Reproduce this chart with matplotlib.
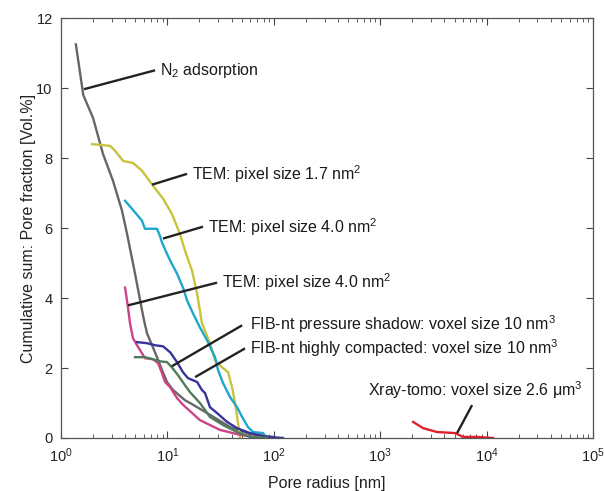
import matplotlib
matplotlib.use("Agg")
import matplotlib.pyplot as plt
from matplotlib.ticker import LogLocator, NullFormatter

plt.rcParams['font.family'] = ['Liberation Sans', 'DejaVu Sans']
plt.rcParams['mathtext.fontset'] = 'custom'
plt.rcParams['mathtext.rm'] = 'Liberation Sans'
plt.rcParams['mathtext.it'] = 'Liberation Sans:italic'
plt.rcParams['mathtext.default'] = 'regular'

# Pore radius [nm] and cumulative pore fraction [Vol.%] for each method
n2_r = [1.38, 1.62, 2.0, 2.48, 3.08, 3.74, 4.17, 4.96, 5.77, 6.03, 6.43,
        7.17, 7.98, 8.9, 9.91, 11.3, 14.6, 16.3, 25.2, 38.8, 59.7, 98.0]
n2_v = [11.25, 9.8, 9.15, 8.12, 7.35, 6.50, 5.84, 4.70, 3.65, 3.36, 2.99,
        2.65, 2.31, 1.94, 1.60, 1.37, 1.08, 1.0, 0.66, 0.31, 0.11, 0.03]

tem17_r = [1.96, 2.89, 3.22, 3.83, 4.75, 5.77, 7.32, 9.1, 11.0, 13.1, 14.6, 17.0,
           19.0, 21.1, 25.1, 28.0, 32.6, 37.1, 40.5, 43.2, 46.1, 48.1]
tem17_v = [8.40, 8.35, 8.21, 7.92, 7.86, 7.64, 7.21, 6.84, 6.41, 5.84, 5.36, 4.79,
           4.13, 3.28, 2.71, 2.22, 2.02, 1.88, 1.45, 1.00, 0.43, 0.0]

tem40a_r = [4.0, 4.65, 5.77, 6.15, 7.98, 8.5, 8.9, 9.9, 10.6, 12.3, 14.0, 15.3,
            17.4, 20.2, 23.6, 28.0, 29.9, 33.3, 38.7, 45.1, 50.3, 57.2, 63.8,
            79.1, 82.8]
tem40a_v = [6.78, 6.55, 6.21, 5.98, 5.98, 5.78, 5.58, 5.27, 5.07, 4.70, 4.30, 3.93,
            3.56, 3.16, 2.79, 2.31, 1.94, 1.57, 1.17, 0.88, 0.60, 0.31, 0.17,
            0.14, 0.06]

tem40b_r = [4.0, 4.26, 4.45, 4.75, 5.18, 5.77, 6.15, 7.32, 8.16, 8.9, 9.5, 10.6,
            12.3, 14.0, 20.2, 31.2, 48.1, 63.8]
tem40b_v = [4.30, 3.73, 3.28, 2.85, 2.65, 2.42, 2.28, 2.25, 2.14, 1.85, 1.60, 1.45,
            1.14, 0.95, 0.51, 0.23, 0.09, 0.03]

fib_hc_r = [5.18, 6.43, 7.65, 9.1, 10.6, 12.3, 14.0, 15.6, 19.0, 21.1, 22.6, 25.1,
            29.3, 36.3, 45.1, 59.7, 86.3, 122.0]
fib_hc_v = [2.74, 2.71, 2.65, 2.62, 2.45, 2.17, 1.88, 1.71, 1.60, 1.37, 1.28, 0.88,
            0.71, 0.46, 0.28, 0.14, 0.03, 0.0]

fib_ps_r = [4.96, 6.15, 7.32, 8.5, 9.9, 11.0, 12.6, 14.6, 16.3, 20.2, 25.1, 33.3,
            45.1, 59.7, 86.3]
fib_ps_v = [2.31, 2.31, 2.25, 2.19, 2.17, 2.02, 1.79, 1.51, 1.31, 1.00, 0.60, 0.37,
            0.17, 0.03, 0.0]

xray_r = [2033, 2525, 3420, 5050, 6000, 8130, 11480]
xray_v = [0.46, 0.28, 0.17, 0.14, 0.03, 0.03, 0.0]

# Label text, point on the curve, end of leader line, text anchor
label_text = [
    'N$_2$ adsorption',
    'TEM: pixel size 1.7 nm$^2$',
    'TEM: pixel size 4.0 nm$^2$',
    'TEM: pixel size 4.0 nm$^2$',
    'FIB-nt pressure shadow: voxel size 10 nm$^3$',
    'FIB-nt highly compacted: voxel size 10 nm$^3$',
    'Xray-tomo: voxel size 2.6 μm$^3$',
]
leader_tip = [(1.645, 9.97), (7.17, 7.24), (9.09, 5.70), (4.26, 3.79),
              (11.0, 2.05), (18.2, 1.74), (5270, 0.14)]
leader_end = [(7.65, 10.51), (15.3, 7.55), (21.6, 6.04), (29.3, 4.44),
              (50.3, 3.22), (53.6, 2.56), (7290, 0.94)]
text_anchor = [(8.52, 10.51), (17.0, 7.55), (24.1, 6.04), (32.6, 4.44),
               (59.7, 3.25), (59.7, 2.58), (768, 1.37)]

fig = plt.figure(figsize=(6.04, 4.91), dpi=100)
ax = fig.add_axes([0.101, 0.108, 0.881, 0.855])

lw = 1.7
ax.plot(n2_r, n2_v, color='#666666', lw=lw)
ax.plot(tem17_r, tem17_v, color='#c8c23c', lw=lw)
ax.plot(tem40a_r, tem40a_v, color='#1ea6cc', lw=lw)
ax.plot(tem40b_r, tem40b_v, color='#cc4488', lw=lw)
ax.plot(fib_hc_r, fib_hc_v, color='#36349a', lw=lw)
ax.plot(fib_ps_r, fib_ps_v, color='#4f7d5c', lw=lw)
ax.plot(xray_r, xray_v, color='#e0202a', lw=lw)

for text, tip, end, anchor in zip(label_text, leader_tip, leader_end, text_anchor):
    ax.plot([tip[0], end[0]], [tip[1], end[1]], color='#222222', lw=1.7,
            solid_capstyle='butt')
    ax.text(anchor[0], anchor[1], text, fontsize=11.5, color='#1a1a1a',
            ha='left', va='center')

ax.set_xscale('log')
ax.set_xlim(1, 1e5)
ax.set_ylim(0, 12)
ax.set_yticks(range(0, 13, 2))
ax.xaxis.set_major_locator(LogLocator(base=10, numticks=10))
ax.xaxis.set_minor_locator(LogLocator(base=10, subs=range(2, 10), numticks=50))
ax.xaxis.set_minor_formatter(NullFormatter())
ax.tick_params(which='both', direction='in', top=True, right=True,
               color='#444444', labelsize=10.5, labelcolor='#222222')
ax.tick_params(which='major', length=5, pad=6)
ax.tick_params(which='minor', length=3)
for s in ax.spines.values():
    s.set_color('#555555')
    s.set_linewidth(0.9)

ax.set_xlabel('Pore radius [nm]', fontsize=11.5, color='#222222', labelpad=8)
ax.set_ylabel('Cumulative sum: Pore fraction [Vol.%]', fontsize=11.5,
              color='#222222', labelpad=0)

fig.savefig('out.png', dpi=100)
